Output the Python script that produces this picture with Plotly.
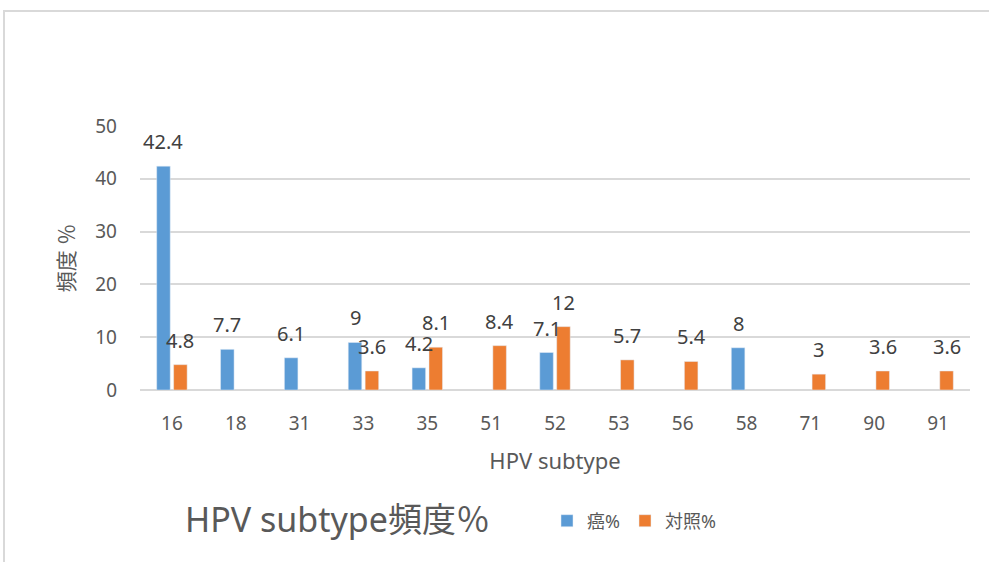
import plotly.graph_objects as go

categories = ["16", "18", "31", "33", "35", "51", "52", "53", "56", "58", "71", "90", "91"]
cancer = [42.4, 7.7, 6.1, 9, 4.2, None, 7.1, None, None, 8, None, None, None]
control = [4.8, None, None, 3.6, 8.1, 8.4, 12, 5.7, 5.4, None, 3, 3.6, 3.6]
series_names = ["癌%", "対照%"]
y_ticks = [0, 10, 20, 30, 40, 50]

BLUE = "#5B9BD5"
ORANGE = "#ED7D31"
TXT = "#595959"
FONT = "Noto Sans, Noto Sans CJK JP, sans-serif"
BARGAP = 0.47

fig = go.Figure()
fig.add_trace(go.Bar(x=categories, y=cancer, name=series_names[0], marker_color=BLUE))
fig.add_trace(go.Bar(x=categories, y=control, name=series_names[1], marker_color=ORANGE))

offset = (1 - BARGAP) / 4
annotations = []
for i, (a, b) in enumerate(zip(cancer, control)):
    for v, dx in ((a, -offset), (b, offset)):
        if v is None:
            continue
        annotations.append(dict(
            x=i + dx, y=v, xref="x", yref="y", text=f"{v:g}", showarrow=False,
            yanchor="bottom", yshift=9, font=dict(size=20, color="#404040", family=FONT)))

fig.update_layout(
    width=989, height=562,
    margin=dict(l=140, r=19, t=126, b=172),
    paper_bgcolor="white", plot_bgcolor="white",
    barmode="group", bargap=BARGAP, bargroupgap=0.2,
    font=dict(family=FONT, color=TXT, size=19),
    title=dict(text="HPV subtype頻度％", x=185 / 989, xanchor="left", y=1 - 520 / 562,
               yanchor="middle", font=dict(size=34, color=TXT, family=FONT)),
    legend=dict(orientation="h", x=(547 - 140) / 830, xanchor="left",
                y=(390 - 521) / 264, yanchor="middle",
                font=dict(size=18, color=TXT, family=FONT), itemwidth=30),
    annotations=annotations,
    shapes=[dict(type="rect", xref="paper", yref="paper",
                 x0=(4 - 140) / 830, x1=(1000 - 140) / 830,
                 y0=(390 - 580) / 264, y1=(390 - 11) / 264,
                 line=dict(color="#d9d9d9", width=2), layer="below")],
)
fig.update_xaxes(type="category", showgrid=False, showline=False, ticks="",
                 ticklabelstandoff=20, tickfont=dict(size=19, color=TXT),
                 title=dict(text="HPV subtype", font=dict(size=22, color=TXT), standoff=18))
fig.update_yaxes(range=[0, 50], tickvals=y_ticks, showgrid=True, gridcolor="#d9d9d9",
                 gridwidth=1.5, zeroline=True, zerolinecolor="#d9d9d9", zerolinewidth=1.5,
                 showline=False, ticks="", ticklabelstandoff=22,
                 tickfont=dict(size=19, color=TXT),
                 title=dict(text="頻度 ％", font=dict(size=21, color=TXT), standoff=14))

fig.write_html("out.html", config={"displayModeBar": False},
               post_script="document.body.style.margin='0';")
